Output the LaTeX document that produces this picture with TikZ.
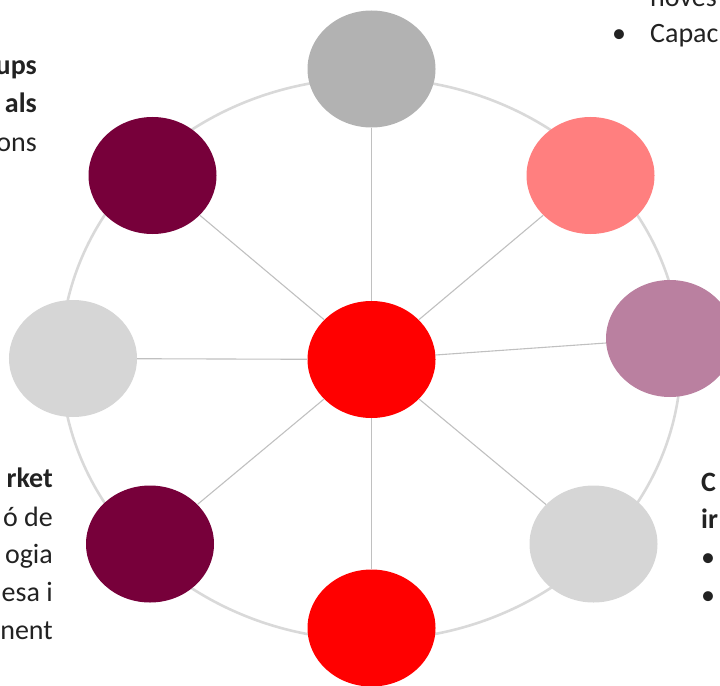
\documentclass[tikz,border=0pt]{standalone}
\usepackage{fontspec}
\setmainfont{Carlito}
\usetikzlibrary{shapes.geometric}
\definecolor{ringgray}{HTML}{D9D9D9}
\definecolor{spokegray}{HTML}{C0C0C0}
\definecolor{midgray}{HTML}{B2B2B2}
\definecolor{lightgray}{HTML}{D6D6D6}
\definecolor{salmon}{HTML}{FF7F7F}
\definecolor{mauve}{HTML}{BA80A0}
\definecolor{maroon}{HTML}{77003A}
\definecolor{brightred}{HTML}{FF0000}
\definecolor{txt}{HTML}{222222}
\begin{document}
\begin{tikzpicture}[x=1bp,y=-1bp,
  blob/.style={ellipse,minimum width=128bp,minimum height=117bp,inner sep=0pt,draw=none},
  spoke/.style={draw=spokegray,line width=1.1bp},
  lbl/.style={inner sep=0pt,text=txt,font=\fontsize{28bp}{38bp}\selectfont},
  lblb/.style={lbl,font=\fontsize{28bp}{38bp}\selectfont\bfseries}]
\useasboundingbox (0,0) rectangle (720,686);
\clip (0,0) rectangle (720,686);
% ring
\draw[ringgray,line width=2.6bp] (371,359) ellipse [x radius=310, y radius=281];
% nodes
\node[blob,fill=brightred] (c) at (371.5,359.5) {};
\node[blob,fill=midgray] (t) at (371.5,69) {};
\node[blob,fill=salmon] (tr) at (590.5,175.5) {};
\node[blob,fill=mauve] (r) at (670,338.5) {};
\node[blob,fill=lightgray] (br) at (593.5,544) {};
\node[blob,fill=brightred] (b) at (371.5,628) {};
\node[blob,fill=maroon] (bl) at (150,544) {};
\node[blob,fill=lightgray] (l) at (73,358.5) {};
\node[blob,fill=maroon] (tl) at (152.5,175.5) {};
% spokes
\foreach \n in {t,tr,r,br,b,bl,l,tl} \draw[spoke] (c) -- (\n);
% texts top-left
\node[lblb,anchor=base east] (tl1) at (37,75) {ups};
\node[lblb,anchor=base east] (tl2) at (37,113) {als};
\node[lbl,anchor=base east] (tl3) at (37,151) {ons};
% texts bottom-left
\node[lblb,anchor=base east] (bl1) at (53,487) {rket};
\node[lbl,anchor=base east] (bl2) at (53,526) {ó de};
\node[lbl,anchor=base east] (bl3) at (53,563) {ogia};
\node[lbl,anchor=base east] (bl4) at (53,601) {esa i};
\node[lbl,anchor=base east] (bl5) at (53,639) {nent};
% texts top-right
\node[lbl,anchor=base west] (tr1) at (650,7) {noves};
\node[lbl,anchor=base west] (tr2) at (612,43) {•};
\node[lbl,anchor=base west] (tr3) at (650,43) {Capac};
% texts right
\node[lblb,anchor=base west] (r1) at (701,491) {C};
\node[lblb,anchor=base west] (r2) at (701,528) {ir};
\node[lbl,anchor=base west] (r3) at (701,566) {•};
\node[lbl,anchor=base west] (r4) at (701,604) {•};
\end{tikzpicture}
\end{document}
